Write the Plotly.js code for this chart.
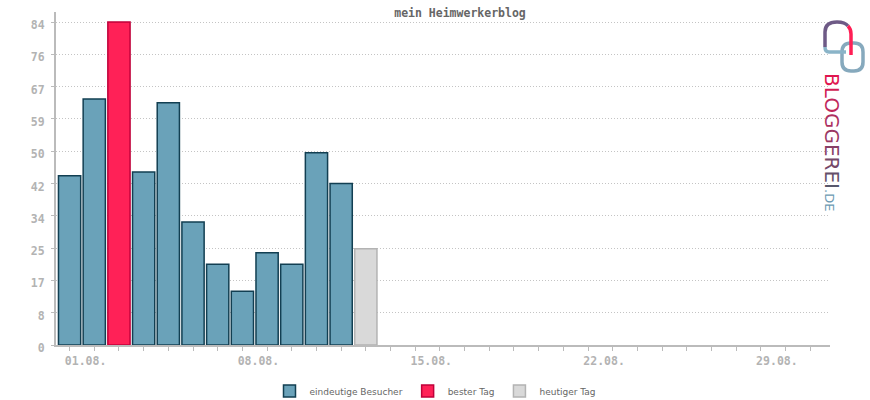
<!DOCTYPE html>
<html>
<head>
<meta charset="utf-8">
<script src="https://cdn.plot.ly/plotly-3.0.1.min.js"></script>
<style>html,body{margin:0;padding:0;background:#fff;}#chart{width:870px;height:400px;}</style>
</head>
<body>
<div id="chart"></div>
<script>
// ---- data ----
const visitorDays   = [1, 2, 4, 5, 6, 7, 8, 9, 10, 11, 12];
const visitorValues = [44, 64, 45, 63, 32, 21, 14, 24, 21, 50, 42];
const bestDays      = [3];
const bestValues    = [84];
const todayDays     = [13];
const todayValues   = [25];
const xTickVals     = [1, 8, 15, 22, 29];
const xTickText     = ['01.08.', '08.08.', '15.08.', '22.08.', '29.08.'];
const yTickVals     = [0, 8.4, 16.8, 25.2, 33.6, 42, 50.4, 58.8, 67.2, 75.6, 84];
const yTickText     = ['0', '8', '17', '25', '34', '42', '50', '59', '67', '76', '84'];
const seriesNames   = ['eindeutige Besucher', 'bester Tag', 'heutiger Tag'];

// ---- layout helpers (decorative logo, pixel -> paper) ----
const L = 56, R = 830, T = 12, B = 345;
const px = v => (v - L) / (R - L);
const py = v => (B - v) / (B - T);
function P(x, y) { return px(x) + ',' + py(y); }
function rrect(x0, y0, x1, y1, r) {
  return 'M' + P(x0 + r, y0) + ' L' + P(x1 - r, y0) +
    ' Q' + P(x1, y0) + ' ' + P(x1, y0 + r) +
    ' L' + P(x1, y1 - r) + ' Q' + P(x1, y1) + ' ' + P(x1 - r, y1) +
    ' L' + P(x0 + r, y1) + ' Q' + P(x0, y1) + ' ' + P(x0, y1 - r) +
    ' L' + P(x0, y0 + r) + ' Q' + P(x0, y0) + ' ' + P(x0 + r, y0) + ' Z';
}

const mono = 'DejaVu Sans Mono, monospace';
const traces = [
  {type: 'bar', x: visitorDays, y: visitorValues, name: seriesNames[0], width: 0.9,
   marker: {color: '#6aa2b9', line: {color: '#123f52', width: 1.5}}, hoverinfo: 'x+y'},
  {type: 'bar', x: bestDays, y: bestValues, name: seriesNames[1], width: 0.9,
   marker: {color: '#ff2157', line: {color: '#c0003a', width: 1.5}}, hoverinfo: 'x+y'},
  {type: 'bar', x: todayDays, y: todayValues, name: seriesNames[2], width: 0.9,
   marker: {color: '#d9d9d9', line: {color: '#b3b3b3', width: 1.5}}, hoverinfo: 'x+y'}
];

const letters = 'BLOGGEREI'.split('');
const cols = ['#e0164f', '#d11d55', '#c0285b', '#ad3160', '#9b3963', '#884066', '#764868', '#65506a', '#58586c'];
const logoText = letters.map((c, i) => '<span style="color:' + cols[i] + '">' + c + '</span>').join('') +
  '<span style="color:#6d9ab2;font-size:13px">.DE</span>';

const layout = {
  width: 870, height: 400,
  margin: {l: L, r: 870 - R, t: T, b: 400 - B},
  paper_bgcolor: '#fff', plot_bgcolor: '#fff',
  barmode: 'overlay',
  showlegend: true,
  title: {text: '<b>mein Heimwerkerblog</b>', font: {family: mono, size: 11.5, color: '#666'},
          x: 460 / 870, xref: 'container', xanchor: 'center',
          y: 1 - 13 / 400, yref: 'container', yanchor: 'middle'},
  xaxis: {
    range: [0.45, 31.8], tickvals: xTickVals, ticktext: xTickText,
    showgrid: false, zeroline: false,
    showline: true, linecolor: '#bbbbbb', linewidth: 2,
    ticks: 'outside', ticklen: 4, tickcolor: '#bbbbbb', tickwidth: 1,
    minor: {dtick: 1, tick0: 1, ticks: 'outside', ticklen: 4, tickcolor: '#bbbbbb', showgrid: false},
    ticklabelshift: 16,
    tickfont: {family: mono, size: 11.5, color: '#b3b3b3', weight: 'bold'}
  },
  yaxis: {
    range: [0, 86.6], tickvals: yTickVals, ticktext: yTickText,
    showgrid: true, gridcolor: '#c4c4c4', griddash: '1px,2px', gridwidth: 1,
    zeroline: false, showline: true, linecolor: '#bbbbbb', linewidth: 2,
    ticks: 'outside', ticklen: 3, tickcolor: '#bbbbbb', tickwidth: 1,
    ticklabelstandoff: 4, ticklabelshift: 3,
    tickfont: {family: mono, size: 11.5, color: '#b3b3b3', weight: 'bold'}
  },
  legend: {orientation: 'h', x: 0.5, xref: 'container', xanchor: 'center',
           y: 1 - 391 / 400, yref: 'container', yanchor: 'middle',
           font: {family: 'DejaVu Sans, sans-serif', size: 9, color: '#666'},
           itemwidth: 30},
  annotations: [
    {xref: 'paper', yref: 'paper', x: px(832), y: py(71), xanchor: 'center', yanchor: 'top',
     text: logoText, textangle: 90, showarrow: false,
     font: {family: 'DejaVu Sans, sans-serif', size: 20, color: '#a03060'}}
  ],
  shapes: [
    {type: 'path', xref: 'paper', yref: 'paper', path: rrect(842, 43, 863, 71, 9),
     line: {color: '#86a9bd', width: 3.5}},
    {type: 'path', xref: 'paper', yref: 'paper',
     path: 'M' + P(846, 52) + ' L' + P(829, 52) + ' Q' + P(825, 52) + ' ' + P(825, 47),
     line: {color: '#8ab4c8', width: 3.5}},
    {type: 'path', xref: 'paper', yref: 'paper',
     path: 'M' + P(825, 47) + ' L' + P(825, 32) + ' Q' + P(825, 22) + ' ' + P(837, 22) +
           ' Q' + P(845, 22) + ' ' + P(848, 26),
     line: {color: '#6e5a86', width: 3.5}},
    {type: 'path', xref: 'paper', yref: 'paper',
     path: 'M' + P(848, 26) + ' Q' + P(851, 29) + ' ' + P(851, 34) + ' L' + P(851, 55),
     line: {color: '#ff1f55', width: 3.5}}
  ]
};

Plotly.newPlot('chart', traces, layout, {displayModeBar: false, staticPlot: true});
</script>
</body>
</html>
